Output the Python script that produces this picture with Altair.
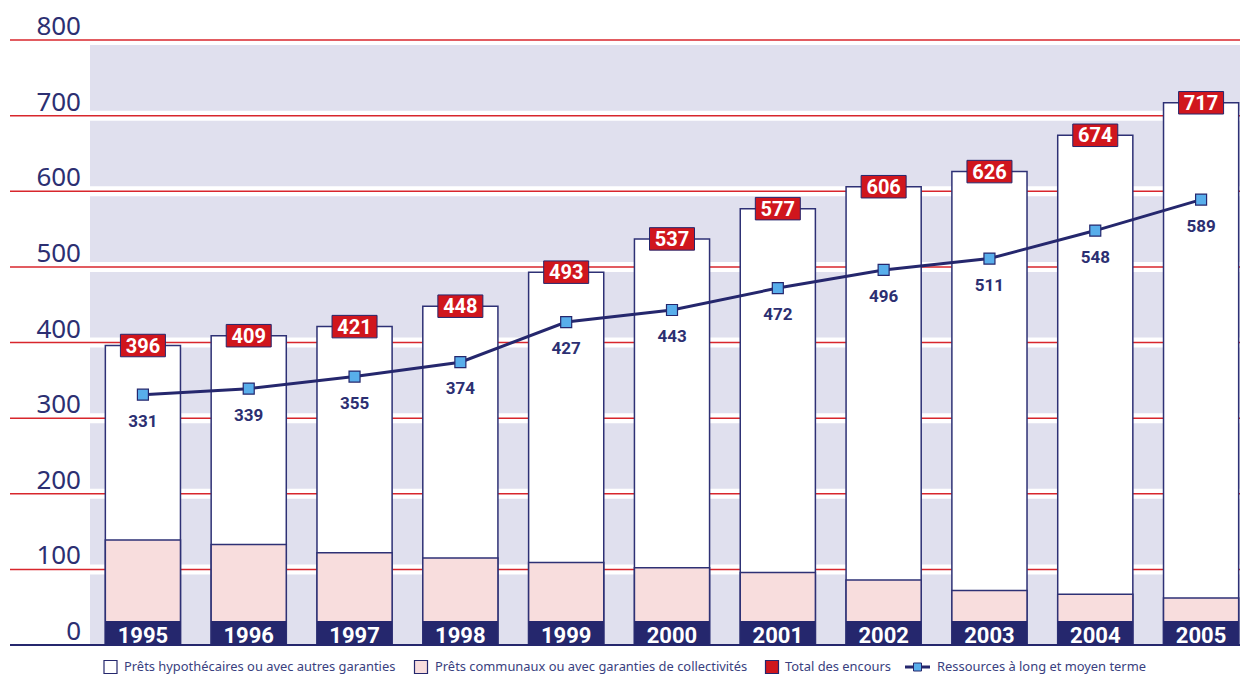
import altair as alt
import pandas as pd

# ---------------- data ----------------
years = ["1995", "1996", "1997", "1998", "1999", "2000", "2001", "2002", "2003", "2004", "2005"]
total = [396, 409, 421, 448, 493, 537, 577, 606, 626, 674, 717]
communal = [139, 133, 122, 115, 109, 102, 96, 86, 72, 67, 62]
ressources = [331, 339, 355, 374, 427, 443, 472, 496, 511, 548, 589]

tick_values = [0, 100, 200, 300, 400, 500, 600, 700, 800]
band_lo = [100, 200, 300, 400, 500, 600, 700]
band_hi = [200, 300, 400, 500, 600, 700, 800]

legend_labels = [
    "Prêts hypothécaires ou avec autres garanties",
    "Prêts communaux ou avec garanties de collectivités",
    "Total des encours",
    "Ressources à long et moyen terme",
]

# ---------------- style ----------------
NAVY = "#25276D"
BAR_STROKE = "#2E3175"
RED = "#D0161D"
PINK = "#F8DDDD"
BAND = "#E0E0EE"
GRID = "#D8262C"
LIGHTBLUE = "#58AEEB"
TEXT = "#2C2F72"
LEGEND_TEXT = "#3A3F80"

PLOT_W = 1150
PLOT_H = 605

df = pd.DataFrame({"year": years, "total": total, "communal": communal, "ressources": ressources})
ticks = pd.DataFrame({"v": tick_values, "label": [str(t) for t in tick_values]})
bands = pd.DataFrame({"lo": band_lo, "hi": band_hi})
bottom_band = pd.DataFrame({"lo": [0], "hi": [100]})

xscale = alt.Scale(range=[0, 1164], paddingInner=0.29, paddingOuter=0.145)
X = alt.X("year:N", sort=years, scale=xscale, axis=None)
yscale = alt.Scale(domain=[0, 800], nice=False, zero=True)


def Y(field):
    return alt.Y(field, type="quantitative", scale=yscale, axis=None)


base = alt.Chart(df)

band_layer = alt.Chart(bands).mark_rect(color=BAND, yOffset=5, y2Offset=-5).encode(
    x=alt.value(0), x2=alt.value(PLOT_W), y=Y("hi"), y2=alt.Y2("lo")
)
bottom_band_layer = alt.Chart(bottom_band).mark_rect(color=BAND, yOffset=5, y2Offset=0).encode(
    x=alt.value(0), x2=alt.value(PLOT_W), y=Y("hi"), y2=alt.Y2("lo")
)
grid_layer = alt.Chart(ticks[ticks.v > 0]).mark_rule(color=GRID, strokeWidth=1.5).encode(
    x=alt.value(-80), x2=alt.value(PLOT_W), y=Y("v")
)
tick_labels = alt.Chart(ticks).mark_text(
    align="right", baseline="alphabetic", dy=-5, font="Noto Sans", fontSize=26, color=TEXT
).encode(x=alt.value(-9), y=Y("v"), text="label:N")

white_bars = base.mark_bar(fill="white", stroke=BAR_STROKE, strokeWidth=1.5).encode(x=X, y=Y("total"))
pink_bars = base.mark_bar(fill=PINK, stroke=BAR_STROKE, strokeWidth=1.5).encode(x=X, y=Y("communal"))

year_boxes = base.mark_bar(color=NAVY).encode(x=X, y=alt.value(PLOT_H - 24), y2=alt.value(PLOT_H))
year_text = base.mark_text(
    baseline="alphabetic", font="Roboto", fontWeight="bold", fontSize=22, color="white"
).encode(x=X, y=alt.value(PLOT_H - 2), text="year:N")

axis_line = alt.Chart(ticks[ticks.v == 0]).mark_rule(color=NAVY, strokeWidth=2).encode(
    x=alt.value(-80), x2=alt.value(PLOT_W), y=Y("v")
)

line = base.mark_line(color=NAVY, strokeWidth=3).encode(x=X, y=Y("ressources"))
squares = base.mark_point(
    shape="square", filled=True, fill=LIGHTBLUE, stroke=NAVY, strokeWidth=1.2, size=121, opacity=1
).encode(x=X, y=Y("ressources"))
res_labels = base.mark_text(
    baseline="middle", dy=27, font="Roboto", fontWeight="bold", fontSize=17, color=TEXT
).encode(x=X, y=Y("ressources"), text="ressources:Q")

total_boxes = base.mark_point(
    shape="M-1,-0.5L1,-0.5L1,0.5L-1,0.5Z", filled=True, fill=RED, stroke=NAVY,
    strokeWidth=1, size=2025, opacity=1
).encode(x=X, y=Y("total"))
total_text = base.mark_text(
    baseline="middle", dy=1, font="Roboto", fontWeight="bold", fontSize=20, color="white"
).encode(x=X, y=Y("total"), text="total:Q")

# ---------------- legend ----------------
leg_df = pd.DataFrame({"label": legend_labels})
LEG_Y = 627
leg_layers = []
sym_x = [20.5, 331, 682]
sym_fill = ["white", PINK, RED]
txt_x = [34, 345, 695, 847]
for i in range(3):
    leg_layers.append(
        alt.Chart(leg_df.iloc[[i]]).mark_point(
            shape="square", filled=True, fill=sym_fill[i], stroke=NAVY, strokeWidth=1.2, size=169, opacity=1
        ).encode(x=alt.value(sym_x[i]), y=alt.value(LEG_Y))
    )
leg_layers.append(
    alt.Chart(leg_df.iloc[[3]]).mark_rule(color=NAVY, strokeWidth=3).encode(
        x=alt.value(815), x2=alt.value(840), y=alt.value(LEG_Y)
    )
)
leg_layers.append(
    alt.Chart(leg_df.iloc[[3]]).mark_point(
        shape="square", filled=True, fill=LIGHTBLUE, stroke=NAVY, strokeWidth=1, size=64, opacity=1
    ).encode(x=alt.value(827.5), y=alt.value(LEG_Y))
)
for i in range(4):
    leg_layers.append(
        alt.Chart(leg_df.iloc[[i]]).mark_text(
            align="left", baseline="middle", font="Noto Sans", fontSize=12.9, color=LEGEND_TEXT
        ).encode(x=alt.value(txt_x[i]), y=alt.value(LEG_Y), text="label:N")
    )

chart = alt.layer(
    bottom_band_layer, band_layer, grid_layer, tick_labels,
    white_bars, pink_bars, year_boxes, year_text, axis_line,
    line, squares, res_labels, total_boxes, total_text,
    *leg_layers
).properties(
    width=PLOT_W, height=PLOT_H,
    autosize=alt.AutoSizeParams(type="none"),
    padding={"left": 82, "top": 32, "right": 0, "bottom": 30},
    background="white",
).configure_view(stroke=None)

chart.save("out.html", embed_options={"renderer": "svg", "actions": False})
